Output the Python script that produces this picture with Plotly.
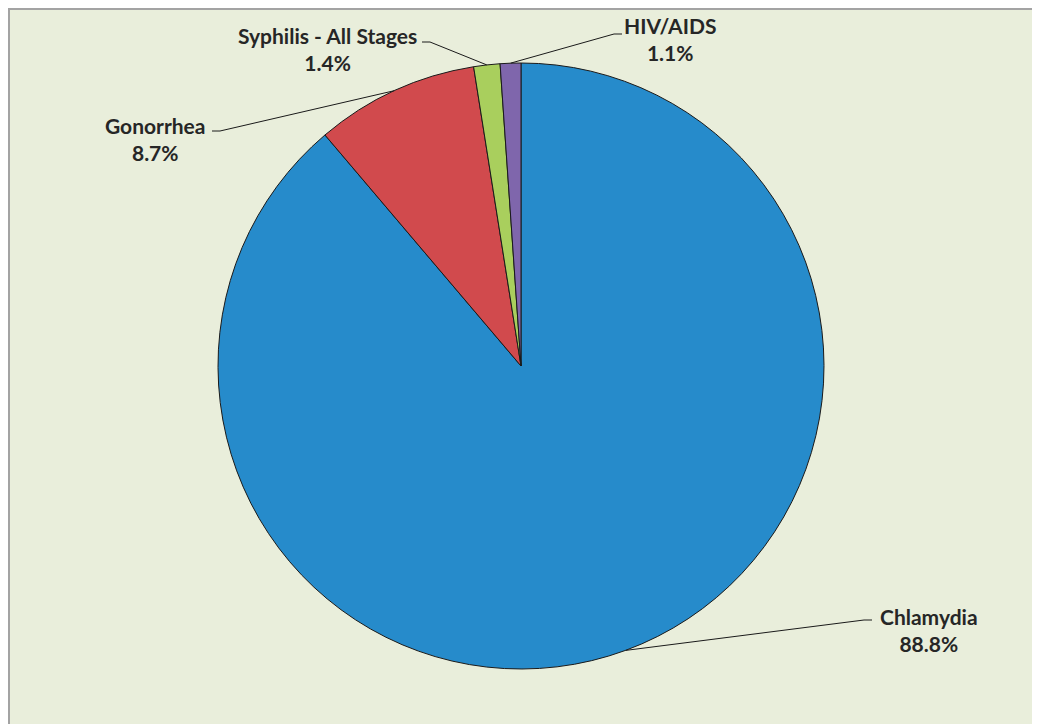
import numpy as np
import plotly.graph_objects as go

# ─── Data ─────────────────────────────────────────────────────────────────────
diseases = ["Chlamydia", "Gonorrhea", "Syphilis - All Stages", "HIV/AIDS"]
shares = [88.8, 8.7, 1.4, 1.1]
slice_colors = ["#268BCB", "#D14A4D", "#A9CF5D", "#7F66AC"]

# label anchors in page pixels (end of leader line, text centre)
label_pos = {
    "Chlamydia": dict(line_end=(872, 620), text=(929, 630)),
    "Gonorrhea": dict(line_end=(212, 131), text=(155, 139)),
    "Syphilis - All Stages": dict(line_end=(422, 42), text=(327, 49)),
    "HIV/AIDS": dict(line_end=(622, 34), text=(670, 39)),
}

OFF = 8                      # page body margin
W, H = 1032, 716             # figure size
CX, CY, R = 521, 366, 303    # pie centre / radius in page pixels


def px(x, y):
    return (x - OFF) / W, 1 - (y - OFF) / H


fig = go.Figure(go.Pie(
    labels=diseases,
    values=shares,
    sort=False,
    direction="clockwise",
    rotation=0,
    marker=dict(colors=slice_colors, line=dict(color="#1a1a1a", width=1)),
    textinfo="none",
    hoverinfo="label+percent",
    domain=dict(x=[(CX - R - OFF) / W, (CX + R - OFF) / W],
                y=[1 - (CY + R - OFF) / H, 1 - (CY - R - OFF) / H]),
    showlegend=False,
))

# chart area background + border
fig.add_shape(type="rect", xref="paper", yref="paper",
              x0=1 / W, x1=1027 / W, y0=-0.05, y1=1 - 1 / H,
              fillcolor="#E9EEDB", line=dict(color="#A3A3A3", width=2),
              layer="below")

# leader lines + labels
cum = np.cumsum([0] + shares[:-1])
total = sum(shares)
for name, start, val in zip(diseases, cum, shares):
    ang = np.deg2rad((start + val / 2) / total * 360)
    ex, ey = CX + R * np.sin(ang), CY - R * np.cos(ang)
    lx, ly = label_pos[name]["line_end"]
    step = 8 if lx < CX else -8
    x0, y0 = px(lx, ly)
    x1, y1 = px(lx + step, ly)
    x2, y2 = px(ex, ey)
    fig.add_shape(type="path", xref="paper", yref="paper",
                  path=f"M {x0} {y0} L {x1} {y1} L {x2} {y2}",
                  line=dict(color="#1a1a1a", width=1))
    tx, ty = label_pos[name]["text"]
    ax_, ay_ = px(tx, ty)
    fig.add_annotation(x=ax_, y=ay_, xref="paper", yref="paper",
                       text=f"<b>{name}</b><br><b>{val:.1f}%</b>",
                       showarrow=False, xanchor="center", yanchor="middle",
                       font=dict(family="Lato", size=21, color="#262626"),
                       align="center")

fig.update_layout(
    width=W, height=H,
    margin=dict(l=0, r=0, t=0, b=0),
    paper_bgcolor="white",
    plot_bgcolor="white",
)

fig.write_html("out.html")
